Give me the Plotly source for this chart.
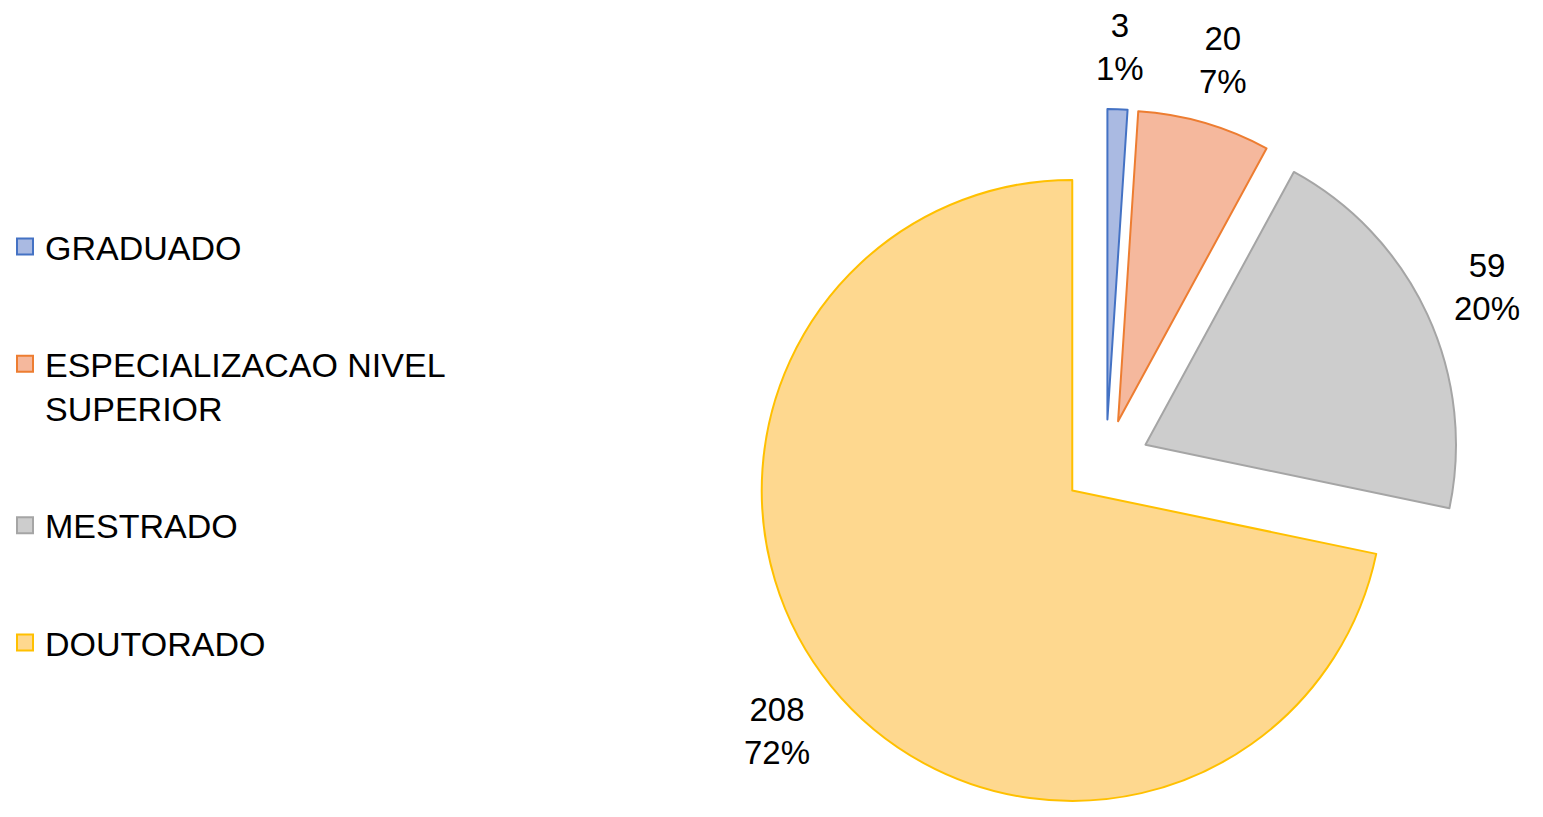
import math
import plotly.graph_objects as go

labels = ["GRADUADO", "ESPECIALIZACAO NIVEL<br>SUPERIOR", "MESTRADO", "DOUTORADO"]
values = [3, 20, 59, 208]
fill_colors = ["#aabae2", "#f5b89d", "#cdcdcd", "#fed88f"]
line_colors = ["#4472c4", "#ed7d31", "#a5a5a5", "#ffc000"]
pull_frac = 0.14

W, H = 1543, 817
FONT = "Liberation Sans, Arial, sans-serif"
LABEL_SIZE = 33
cx, cy = 1106, 463          # pie centre (px)
half = H - cy               # domain half-height (px)
r = half / (1 + pull_frac)  # radius that plotly will use

fig = go.Figure()
fig.add_trace(go.Pie(
    labels=labels,
    values=values,
    sort=False,
    direction="clockwise",
    rotation=0,
    pull=[pull_frac] * len(values),
    marker=dict(colors=fill_colors, line=dict(color=line_colors, width=2)),
    textinfo="none",
    domain=dict(x=[(cx - 420) / W, (cx + 420) / W], y=[1 - (cy + half) / H, 1 - (cy - half) / H]),
    automargin=False,
    showlegend=False,
    hoverinfo="label+value+percent",
))

# legend entries
for i, lab in enumerate(labels):
    fig.add_trace(go.Scatter(
        x=[None], y=[None], mode="markers", name=lab,
        legendgroup=f"g{i}",
        marker=dict(symbol="square", size=17, color=fill_colors[i],
                    line=dict(color=line_colors[i], width=2)),
        hoverinfo="skip",
    ))

# data labels (value + percent) outside each slice, along its bisector
total = sum(values)
cum = 0
for v in values:
    theta = (cum + v / 2) / total * 2 * math.pi
    cum += v
    sx, sy = math.sin(theta), -math.cos(theta)
    ax = cx + pull_frac * r * sx
    ay = cy + pull_frac * r * sy
    txt = [str(v), f"{round(100 * v / total)}%"]
    box_w = 0.58 * LABEL_SIZE * max(len(t) for t in txt)
    box_h = 2.3 * LABEL_SIZE
    extent = abs(sx) * box_w / 2 + abs(sy) * box_h / 2
    d = r + 24 + extent
    lx, ly = ax + d * sx, ay + d * sy
    fig.add_annotation(
        x=lx / W, y=1 - ly / H, xref="paper", yref="paper",
        text="<br>".join(txt),
        showarrow=False, xanchor="center", yanchor="middle",
        font=dict(family=FONT, size=LABEL_SIZE, color="#000000"),
    )

fig.update_layout(
    width=W, height=H,
    margin=dict(l=0, r=0, t=0, b=0),
    paper_bgcolor="white", plot_bgcolor="white",
    font=dict(family=FONT, size=34, color="#000000"),
    xaxis=dict(visible=False),
    yaxis=dict(visible=False),
    showlegend=True,
    legend=dict(
        x=5 / W, y=1 - 218 / H, xanchor="left", yanchor="top",
        traceorder="grouped", tracegroupgap=70, valign="top",
        font=dict(family=FONT, size=34, color="#000000"),
        bgcolor="rgba(0,0,0,0)",
        itemclick=False, itemdoubleclick=False,
    ),
)

fig.write_html(
    "out.html",
    config={"displayModeBar": False},
    post_script="document.body.style.margin='0';document.body.style.overflow='hidden';",
)
